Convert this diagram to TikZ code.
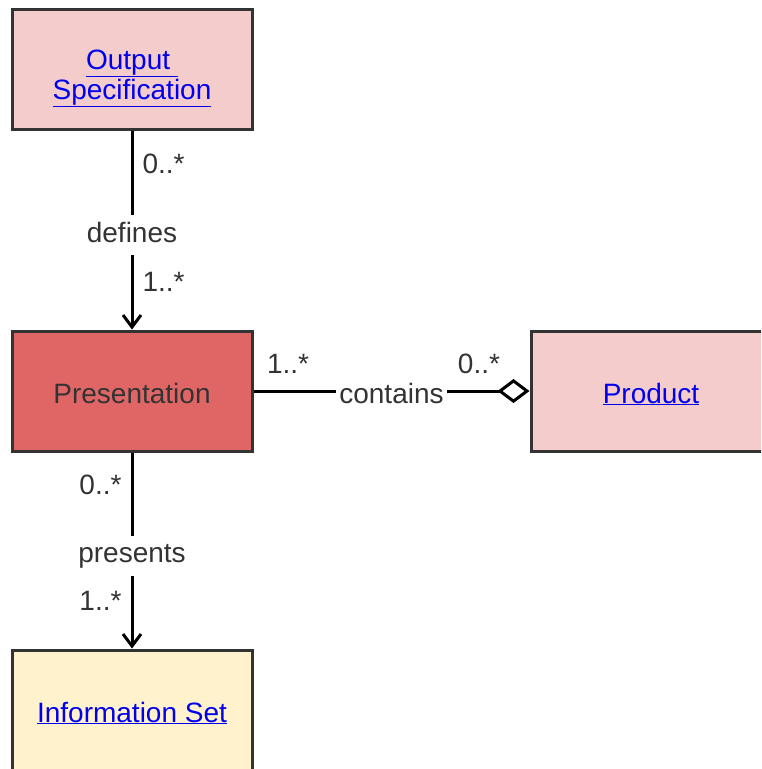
\documentclass[tikz,border=0pt]{standalone}
\usepackage{fontspec}
\setmainfont{Liberation Sans}
\usetikzlibrary{positioning,arrows.meta}
\definecolor{boxline}{HTML}{333333}
\definecolor{textgray}{HTML}{333333}
\definecolor{linkblue}{HTML}{0000EE}
\definecolor{lightred}{HTML}{F4CCCC}
\definecolor{mainred}{HTML}{E06666}
\definecolor{lightyellow}{HTML}{FFF2CC}
\newcommand{\umllink}[1]{\textcolor{linkblue}{\underline{#1}}}
\tikzstyle{classbox} = [rectangle, minimum width=240pt, minimum height=120pt, text centered, align=center, draw=boxline, line width=3pt, font=\fontsize{28}{30}\selectfont]
\tikzstyle{one-line} = [text height=24pt, text depth=0pt]
\tikzstyle{light-class} = [classbox, fill=lightred]
\tikzstyle{main-class} = [classbox, one-line, fill=mainred, text=textgray]
\tikzstyle{info-class} = [classbox, one-line, fill=lightyellow]
\tikzstyle{assoc} = [line width=3pt, -{Straight Barb[length=12pt,width=18pt]}]
\tikzstyle{aggr} = [line width=3pt, -{Diamond[open,length=32pt,width=24pt]}]
\tikzstyle{rolename} = [fill=white, inner xsep=3pt, inner ysep=7pt, text height=20pt, text depth=6pt, yshift=-5pt, text=textgray, font=\fontsize{28}{32}\selectfont]
\tikzstyle{mult} = [inner sep=2pt, text=textgray, font=\fontsize{28}{32}\selectfont]

\begin{document}
\begin{tikzpicture}[x=1pt, y=1pt, node distance=322pt]
        \useasboundingbox (0,0) rectangle (761,-769);
        \clip (0,0) rectangle (761,-769);
        \node (output-specification) [light-class] at (132,-69) {\rule{0pt}{38pt}\umllink{Output\ }\\\umllink{Specification}};
        \node (presentation) [main-class, below of=output-specification] {Presentation};
        \node (information-set) [info-class, below of=presentation, yshift=3pt] {\umllink{Information Set}};
        \node (product) [light-class, one-line, right of=presentation, xshift=197pt] {\umllink{Product}};
        
        \draw [assoc] (output-specification) --
            node[mult, pos=0, anchor=base west, xshift=7pt, yshift=-43pt] {0..*}
            node[rolename] {defines}
            node[mult, pos=1, anchor=base west, xshift=7pt, yshift=38pt] {1..*} (presentation);
        \draw [aggr] (presentation) --
            node[mult, pos=0, anchor=base west, xshift=10pt, yshift=18pt] {1..*}
            node[rolename] {contains}
            node[mult, pos=1, anchor=base east, xshift=-26pt, yshift=18pt] {0..*} (product);
        \draw [assoc] (presentation) --
            node[mult, pos=0, anchor=base east, xshift=-7pt, yshift=-42pt] {0..*}
            node[rolename] {presents}
            node[mult, pos=1, anchor=base east, xshift=-7pt, yshift=38pt] {1..*} (information-set);
    \end{tikzpicture}
\end{document}
